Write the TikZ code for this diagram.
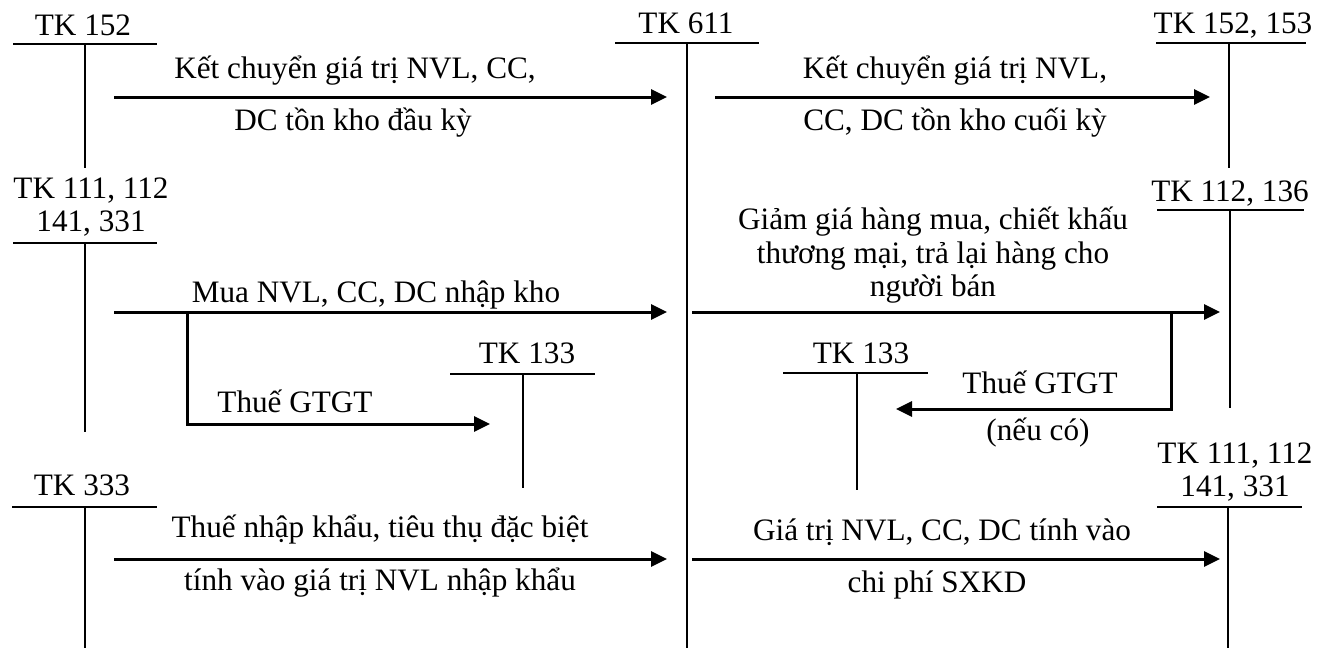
\documentclass[tikz,border=0pt]{standalone}
\usepackage{fontspec}
\setmainfont{Liberation Serif}
\usetikzlibrary{arrows.meta}

\begin{document}
\begin{tikzpicture}[
  x=0.5pt, y=-0.5pt,
  txt/.style={font=\fontsize{15.6}{16.75}\selectfont, inner sep=0pt, anchor=base},
  tline/.style={line width=0.9pt},
  arrow/.style={-{Triangle[length=8pt, width=7.5pt]}, line width=1.5pt}
]
  \useasboundingbox (0,0) rectangle (1331,648);

  % account names
  \node[txt] (tk152)  at (83,35)   {TK 152};
  \node[txt] (tk611)  at (686,33)  {TK 611};
  \node[txt] (tk153)  at (1233,33) {TK 152, 153};
  \node[txt, anchor=south, align=center] (tk111a) at (91,237) {TK 111, 112\\141, 331};
  \node[txt] (tk133a) at (527,363) {TK 133};
  \node[txt] (tk333)  at (82,495)  {TK 333};
  \node[txt] (tk136)  at (1230,201) {TK 112, 136};
  \node[txt] (tk133b) at (861,363) {TK 133};
  \node[txt, anchor=south, align=center] (tk111b) at (1235,502) {TK 111, 112\\141, 331};

  \coordinate (k152l) at (13,44);    \coordinate (k152r) at (157,44);   \coordinate (k152t) at (85,44);    \coordinate (k152b) at (85,168);
  \coordinate (k611l) at (615,43);   \coordinate (k611r) at (759,43);   \coordinate (k611t) at (687,43);   \coordinate (k611b) at (687,648);
  \coordinate (k153l) at (1156,43);  \coordinate (k153r) at (1306,43);  \coordinate (k153t) at (1229,43);  \coordinate (k153b) at (1229,168);
  \coordinate (k111al) at (13,243);  \coordinate (k111ar) at (157,243); \coordinate (k111at) at (85,243);  \coordinate (k111ab) at (85,432);
  \coordinate (k133al) at (450,374); \coordinate (k133ar) at (595,374); \coordinate (k133at) at (523,374); \coordinate (k133ab) at (523,488);
  \coordinate (k333l) at (12,507);   \coordinate (k333r) at (157,507);  \coordinate (k333t) at (85,507);   \coordinate (k333b) at (85,648);
  \coordinate (k136l) at (1157,210); \coordinate (k136r) at (1304,210); \coordinate (k136t) at (1230,210); \coordinate (k136b) at (1230,408);
  \coordinate (k133bl) at (783,373); \coordinate (k133br) at (928,373); \coordinate (k133bt) at (857,373); \coordinate (k133bb) at (857,490);
  \coordinate (k111bl) at (1157,507); \coordinate (k111br) at (1302,507); \coordinate (k111bt) at (1228,507); \coordinate (k111bb) at (1228,648);

  \draw[tline] (k152l) -- (k152r) (k152t) -- (k152b);
  \draw[tline] (k611l) -- (k611r) (k611t) -- (k611b);
  \draw[tline] (k153l) -- (k153r) (k153t) -- (k153b);
  \draw[tline] (k111al) -- (k111ar) (k111at) -- (k111ab);
  \draw[tline] (k133al) -- (k133ar) (k133at) -- (k133ab);
  \draw[tline] (k333l) -- (k333r) (k333t) -- (k333b);
  \draw[tline] (k136l) -- (k136r) (k136t) -- (k136b);
  \draw[tline] (k133bl) -- (k133br) (k133bt) -- (k133bb);
  \draw[tline] (k111bl) -- (k111br) (k111bt) -- (k111bb);

  % entries
  \coordinate (as) at (114,97);  \coordinate (ae) at (667,97);
  \coordinate (bs) at (715,97);  \coordinate (be) at (1210,97);
  \coordinate (cs) at (114,312); \coordinate (ce) at (667,312);
  \coordinate (ds) at (187,312); \coordinate (de) at (490,424);
  \coordinate (es) at (692,312); \coordinate (ee) at (1220,312);
  \coordinate (fs) at (1171,312); \coordinate (fe) at (896,409);
  \coordinate (gs) at (114,559); \coordinate (ge) at (667,559);
  \coordinate (hs) at (692,559); \coordinate (he) at (1220,559);

  \draw[arrow] (as) -- (ae);
  \draw[arrow] (bs) -- (be);
  \draw[arrow] (cs) -- (ce);
  \draw[arrow] (ds) |- (de);
  \draw[arrow] (es) -- (ee);
  \draw[arrow] (fs) |- (fe);
  \draw[arrow] (gs) -- (ge);
  \draw[arrow] (hs) -- (he);

  \node[txt] (aup) at (355,78)  {Kết chuyển giá trị NVL, CC,};
  \node[txt] (adn) at (353,130) {DC tồn kho đầu kỳ};
  \node[txt] (bup) at (955,78)  {Kết chuyển giá trị NVL,};
  \node[txt] (bdn) at (955,130) {CC, DC tồn kho cuối kỳ};
  \node[txt] (cup) at (376,302) {Mua NVL, CC, DC nhập kho};
  \node[txt] (dup) at (295,412) {Thuế GTGT};
  \node[txt, anchor=south, align=center] (eup) at (933,304) {Giảm giá hàng mua, chiết khấu\\thương mại, trả lại hàng cho\\người bán};
  \node[txt] (fup) at (1040,393) {Thuế GTGT};
  \node[txt] (fdn) at (1038,440) {(nếu có)};
  \node[txt] (gup) at (380,537) {Thuế nhập khẩu, tiêu thụ đặc biệt};
  \node[txt] (gdn) at (380,590) {tính vào giá trị NVL nhập khẩu};
  \node[txt] (hup) at (942,540) {Giá trị NVL, CC, DC tính vào};
  \node[txt] (hdn) at (937,592) {chi phí SXKD};
\end{tikzpicture}
\end{document}
